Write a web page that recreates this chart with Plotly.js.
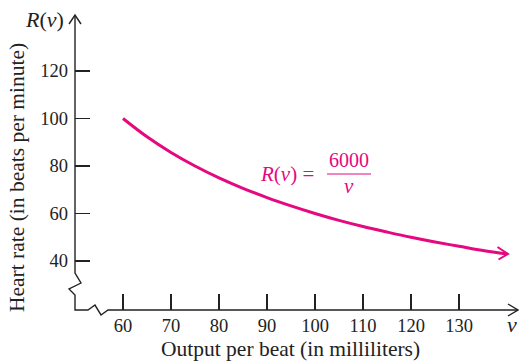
<!DOCTYPE html>
<html><head><meta charset="utf-8">
<script src="https://cdn.plot.ly/plotly-3.0.1.min.js"></script>
<style>html,body{margin:0;padding:0;background:#fff}#chart{width:519px;height:364px}</style>
</head><body><div id="chart"></div>
<script>
// Data: R(v) = 6000 / v
const outputPerBeat = [60, 65, 70, 75, 80, 85, 90, 95, 100, 105, 110, 115, 120, 125, 130, 135, 140];
const heartRate     = [100, 92.3, 85.7, 80, 75, 70.6, 66.7, 63.2, 60, 57.1, 54.5, 52.2, 50, 48, 46.2, 44.4, 42.9];
const xTicks = [60, 70, 80, 90, 100, 110, 120, 130];
const yTicks = [40, 60, 80, 100, 120];

const W = 519, H = 364, ML = 75, MR = 1, MT = 15, MB = 54;
const PW = W - ML - MR, PH = H - MT - MB;
const X0 = 50, X1 = 50 + PW / 4.8, Y0 = 40 - 49 / 2.375, Y1 = Y0 + PH / 2.375;
const px = p => (p - ML) / PW;          // pixel -> paper x
const py = p => (H - MB - p) / PH;      // pixel -> paper y
const magenta = '#E5087F';
const ink = '#222';
const serif = 'Liberation Serif, Times New Roman, serif';

function pathPaper(pts) {
  return pts.map((p, i) => (i ? 'L' : 'M') + px(p[0]).toFixed(4) + ',' + py(p[1]).toFixed(4)).join(' ');
}

const axisStyle = {color: ink, width: 1.4};
const shapes = [
  {type: 'path', xref: 'paper', yref: 'paper', line: axisStyle,
   path: pathPaper([[75, 15], [75, 273], [81, 283], [69, 289], [75, 295], [75, 310], [88, 310], [95, 305], [101, 315], [108, 310], [518, 310]])},
  {type: 'path', xref: 'paper', yref: 'paper', line: axisStyle,
   path: pathPaper([[69, 24], [75, 15], [81, 24]])},
  {type: 'path', xref: 'paper', yref: 'paper', line: axisStyle,
   path: pathPaper([[508, 304], [518, 310], [508, 316]])},
  {type: 'path', xref: 'paper', yref: 'paper', line: {color: magenta, width: 2},
   path: pathPaper([[497.5, 247], [508, 254], [498.5, 259.5]])},
  {type: 'line', xref: 'paper', yref: 'paper', line: {color: magenta, width: 1.2},
   x0: px(327), x1: px(371), y0: py(174), y1: py(174)}
];

const ann = (text, x, y, size, color, opts) => Object.assign({
  text, xref: 'paper', yref: 'paper', x: px(x), y: py(y), showarrow: false,
  xanchor: 'center', yanchor: 'middle', font: {family: serif, size, color}
}, opts || {});

const annotations = [
  ann('<i>R</i>(<i>v</i>)', 44, 19, 22, ink),
  ann('<i>v</i>', 512, 324, 22, ink),
  ann('Output per beat (in milliliters)', 290, 349, 21.5, ink),
  ann('Heart rate (in beats per minute)', 17, 178, 21.5, ink, {textangle: -90}),
  ann('<i>R</i>(<i>v</i>) =', 287, 174, 21, magenta),
  ann('6000', 349, 160, 20, magenta),
  ann('<i>v</i>', 349, 186, 21, magenta)
];

const trace = {
  x: outputPerBeat, y: heartRate, type: 'scatter', mode: 'lines',
  line: {color: magenta, width: 3, shape: 'spline'}, hoverinfo: 'skip'
};

const tickFont = {family: serif, size: 18.5, color: ink};
const layout = {
  width: W, height: H, margin: {l: ML, r: MR, t: MT, b: MB},
  paper_bgcolor: '#fff', plot_bgcolor: '#fff', showlegend: false,
  xaxis: {range: [X0, X1], tickvals: xTicks, ticktext: xTicks.map(String),
    ticks: 'inside', ticklen: 16, tickwidth: 1.4, tickcolor: ink,
    showgrid: false, zeroline: false, showline: false, fixedrange: true,
    ticklabelstandoff: 2,
    tickfont: tickFont, title: {text: ''}},
  yaxis: {range: [Y0, Y1], tickvals: yTicks, ticktext: yTicks.map(String),
    ticks: 'inside', ticklen: 15, tickwidth: 1.4, tickcolor: ink,
    showgrid: false, zeroline: false, showline: false, fixedrange: true,
    ticklabelstandoff: 6,
    tickfont: tickFont, title: {text: ''}},
  shapes, annotations
};

Plotly.newPlot('chart', [trace], layout, {displayModeBar: false, staticPlot: true});
</script></body></html>
